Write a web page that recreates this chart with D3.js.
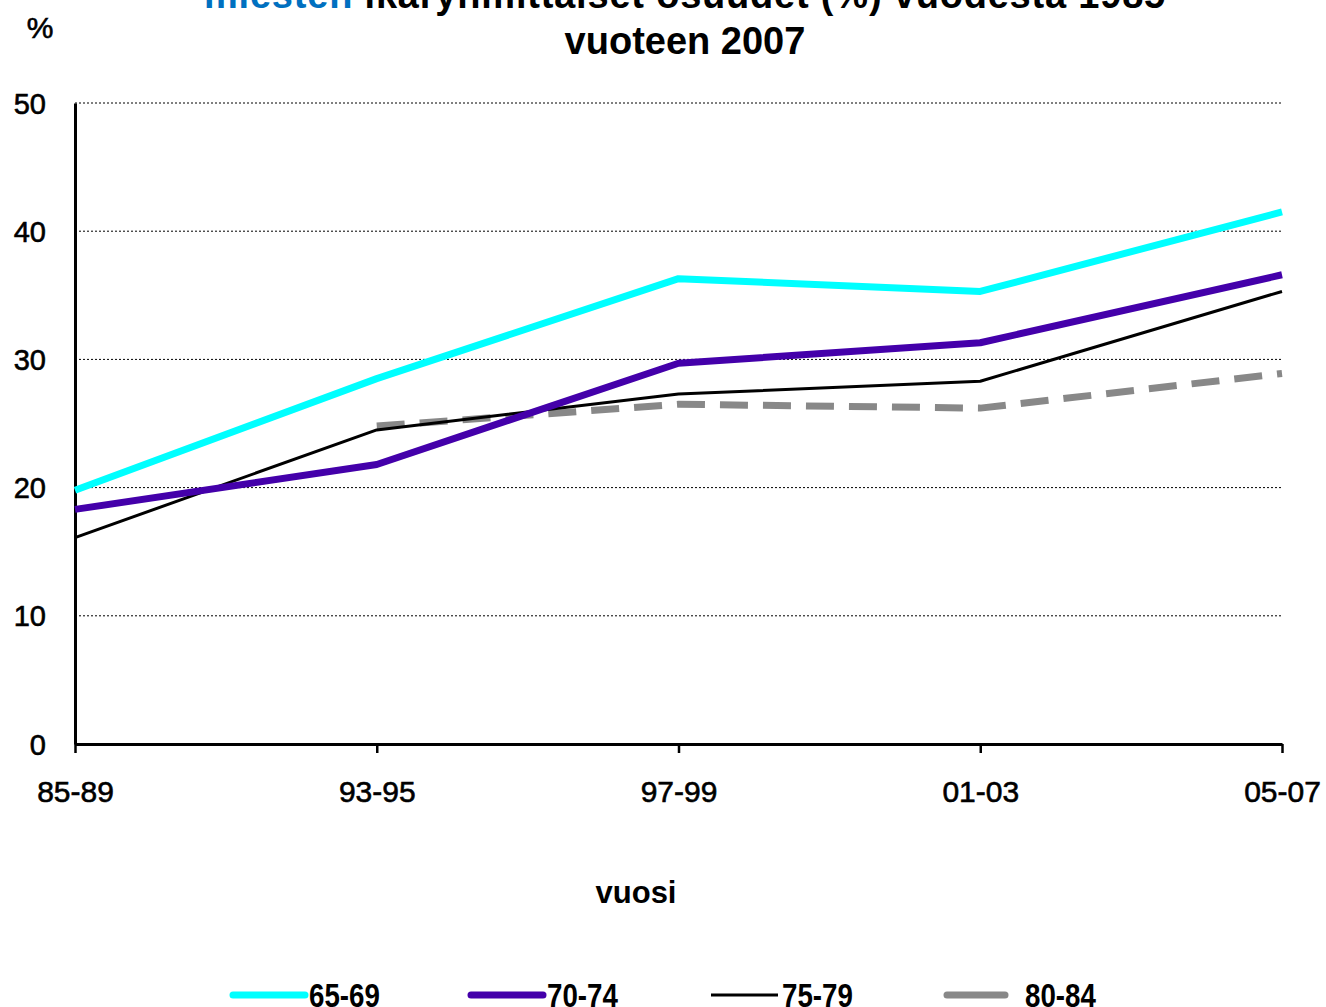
<!DOCTYPE html>
<html>
<head>
<meta charset="utf-8">
<script src="https://cdn.jsdelivr.net/npm/d3@7"></script>
<style>
  body { margin: 0; background: #fff; }
  svg { display: block; font-family: "Liberation Sans", Arial, sans-serif; }
</style>
</head>
<body>
<div id="chart"></div>
<script>
// kategoriat ja sarjat
var categories = ['85-89', '93-95', '97-99', '01-03', '05-07']
var yTicks = [0, 10, 20, 30, 40, 50]
var s6569 = [19.8, 28.5, 36.3, 35.3, 41.5]
var s7074 = [18.3, 21.8, 29.7, 31.3, 36.6]
var s7579 = [16.1, 24.5, 27.3, 28.3, 35.3]
var s8084 = [null, 24.8, 26.5, 26.2, 28.9]
var seriesNames = ['65-69', '70-74', '75-79', '80-84']

var series = [
  { name: seriesNames[0], values: s6569, color: '#00ffff', width: 7, dash: null },
  { name: seriesNames[1], values: s7074, color: '#4400aa', width: 7, dash: null },
  { name: seriesNames[2], values: s7579, color: '#000000', width: 3, dash: null },
  { name: seriesNames[3], values: s8084, color: '#888888', width: 7, dash: '28,15' }
]

var width = 1326
var height = 1007
var mLeft = 75, mRight = 1282, mTop = 103, mBottom = 744

var svg = d3.select('#chart').append('svg').attr('width', width).attr('height', height)

var x = d3.scalePoint().domain(categories).range([mLeft, mRight])
var y = d3.scaleLinear().domain([0, 50]).range([mBottom, mTop])

// otsikko (yläosa leikkautuu)
var title = svg.append('text')
  .attr('x', 685).attr('y', 8)
  .attr('text-anchor', 'middle')
  .attr('font-size', 38).attr('font-weight', 'bold')
  .attr('letter-spacing', 0.8)
title.append('tspan').attr('fill', '#0070c0').text('miesten')
title.append('tspan').attr('fill', '#000').text(' ikäryhmittäiset osuudet (%) vuodesta 1985')
svg.append('text')
  .attr('x', 685).attr('y', 54)
  .attr('text-anchor', 'middle')
  .attr('font-size', 38).attr('font-weight', 'bold')
  .text('vuoteen 2007')

svg.append('text').attr('x', 40).attr('y', 38)
  .attr('text-anchor', 'middle').attr('font-size', 30)
  .attr('stroke', '#000').attr('stroke-width', 0.6)
  .text('%')

// ruudukko
svg.append('g').selectAll('line').data(yTicks.filter(function(d) { return d > 0 })).enter().append('line')
  .attr('x1', mLeft).attr('x2', mRight)
  .attr('y1', function(d) { return y(d) }).attr('y2', function(d) { return y(d) })
  .attr('stroke', '#000').attr('stroke-width', 1).attr('stroke-dasharray', '2,2')

// y-akseli
var axisLeft = d3.axisLeft(y).tickValues(yTicks).tickSize(0).tickPadding(29)
var gy = svg.append('g').attr('transform', 'translate(' + mLeft + ',0)').call(axisLeft)
gy.select('.domain').attr('stroke', '#000').attr('stroke-width', 3)
gy.selectAll('text').attr('font-size', 29).attr('font-family', '"Liberation Sans", Arial, sans-serif')
  .attr('fill', '#000').attr('stroke', '#000').attr('stroke-width', 0.6).attr('dy', '0.35em')

// x-akseli
var axisBottom = d3.axisBottom(x).tickSize(9).tickPadding(28).tickSizeOuter(0)
var gx = svg.append('g').attr('transform', 'translate(0,' + mBottom + ')').call(axisBottom)
gx.select('.domain').attr('stroke', '#000').attr('stroke-width', 3)
gx.selectAll('.tick line').attr('stroke', '#000').attr('stroke-width', 2.5)
gx.selectAll('text').attr('font-size', 30).attr('font-family', '"Liberation Sans", Arial, sans-serif')
  .attr('fill', '#000').attr('stroke', '#000').attr('stroke-width', 0.6)

svg.append('text').attr('x', 636).attr('y', 903)
  .attr('text-anchor', 'middle').attr('font-size', 31).attr('font-weight', 'bold')
  .text('vuosi')

// viivat
var line = d3.line()
  .defined(function(d) { return d != null })
  .x(function(d, i) { return x(categories[i]) })
  .y(function(d) { return y(d) })

svg.append('g').selectAll('path').data(series.slice().reverse()).enter().append('path')
  .attr('d', function(d) { return line(d.values) })
  .attr('fill', 'none')
  .attr('stroke', function(d) { return d.color })
  .attr('stroke-width', function(d) { return d.width })
  .attr('stroke-dasharray', function(d) { return d.dash })
  .attr('stroke-linejoin', 'round')

// selite
var legendX = [233, 471, 711, 947]
var legendLen = [72, 72, 67, 58]
var lg = svg.append('g').selectAll('g').data(series).enter().append('g')
  .attr('transform', function(d, i) { return 'translate(' + legendX[i] + ',995)' })
lg.append('line')
  .attr('x1', 0).attr('x2', function(d, i) { return legendLen[i] })
  .attr('y1', 0).attr('y2', 0)
  .attr('stroke', function(d) { return d.color })
  .attr('stroke-width', function(d) { return d.width === 7 ? 7 : 3 })
  .attr('stroke-linecap', function(d) { return d.width === 7 ? 'round' : 'butt' })
lg.append('text')
  .attr('transform', function(d, i) {
    var tx = i === 3 ? 78 : legendLen[i] + 4
    return 'translate(' + tx + ',12) scale(0.84,1)'
  })
  .attr('font-size', 33).attr('font-weight', 'bold')
  .text(function(d) { return d.name })
</script>
</body>
</html>
